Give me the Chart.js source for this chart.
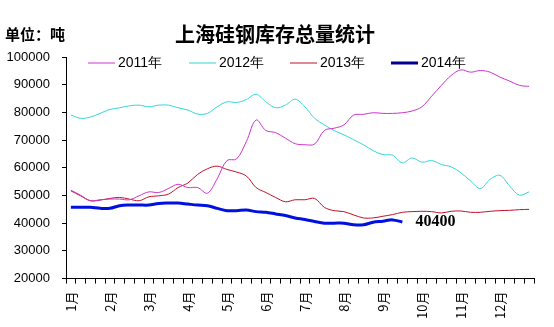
<!DOCTYPE html>
<html>
<head>
<meta charset="utf-8">
<script src="https://cdn.jsdelivr.net/npm/chart.js@4/dist/chart.umd.min.js"></script>
<style>
  html, body { margin: 0; padding: 0; background: #fff; }
  #wrap { width: 554px; height: 327px; }
</style>
</head>
<body>
<div id="wrap"><canvas id="c"></canvas></div>
<script>
// weekly points, 4 per month
var months = ['1月', '2月', '3月', '4月', '5月', '6月', '7月', '8月', '9月', '10月', '11月', '12月'];
var seriesNames = ['2011年', '2012年', '2013年', '2014年'];

var y2011 = [51900, 50100, 48100, 48450, 48700, 48700, 48450, 49900, 51300, 51070, 52500, 54050,
             52860, 52860, 50830, 56000, 62600, 63200, 69500, 77260, 73450, 72700, 70700, 68700,
             68330, 68570, 73500, 74290, 75480, 79050, 79290, 79880, 79640, 79640, 79880, 80500,
             82020, 85830, 89760, 93330, 95360, 94520, 95120, 94520, 92740, 91310, 89760, 89400];
var y2012 = [79050, 77860, 78330, 79640, 81070, 81670, 82380, 82620, 82020, 82620, 82620, 81670,
             80830, 79400, 79640, 82020, 83810, 83570, 84640, 86550, 83810, 81670, 82620, 84760,
             82000, 77860, 75500, 73450, 71900, 70120, 68330, 66190, 64760, 64520, 61790, 63570,
             62020, 62620, 61190, 60360, 58210, 55240, 52500, 55830, 57260, 53450, 50120, 51310];
var y2013 = [51670, 49880, 48100, 48330, 48930, 49290, 48690, 48100, 49520, 49880, 50480, 52860,
             54500, 57620, 59640, 60600, 59400, 58450, 57020, 52860, 51070, 49290, 47740, 48450,
             48450, 48930, 45710, 44520, 44170, 42980, 41900, 41900, 42500, 43100, 43930, 44170,
             44290, 44170, 43690, 44290, 44400, 43930, 43930, 44290, 44520, 44640, 44880, 45000];
var y2014 = [45710, 45710, 45710, 45360, 45360, 46310, 46550, 46550, 46550, 47140, 47260, 47260,
             46900, 46550, 46310, 45360, 44520, 44520, 44760, 44170, 43930, 43330, 42740, 41900,
             41310, 40600, 40000, 40000, 40000, 39400, 39400, 40360, 40710, 41190, 40400];

var yTicks = [20000, 30000, 40000, 50000, 60000, 70000, 80000, 90000, 100000];

var labels = [];
months.forEach(function (m) {
    labels.push(m, '', '', '');
});

var lineColors = ['#CC33CC', '#33D6D6', '#C0102A', '#0010E0'];
var legendColors = ['#CC33CC', '#33D6D6', '#C0102A', '#000090'];
var lineWidths = [1, 1, 1, 3];

// title, unit, legend and the last-value tag
var decor = {
    id: 'decor',
    afterDraw: function (chart) {
        var ctx = chart.ctx;
        ctx.save();
        ctx.fillStyle = '#000';
        ctx.textBaseline = 'middle';

        ctx.font = 'bold 20px "Noto Sans CJK SC"';
        ctx.textAlign = 'center';
        ctx.fillText('上海硅钢库存总量统计', 275, 34);

        ctx.font = 'bold 15px "Noto Sans CJK SC"';
        ctx.textAlign = 'left';
        ctx.fillText('单位：吨', 5, 34);

        var lx = [88, 189, 290, 391];
        ctx.font = '14px "Liberation Sans"';
        seriesNames.forEach(function (name, i) {
            ctx.strokeStyle = legendColors[i];
            ctx.lineWidth = i === 3 ? 3 : 1;
            ctx.beginPath();
            ctx.moveTo(lx[i], 63);
            ctx.lineTo(lx[i] + 27, 63);
            ctx.stroke();
            ctx.fillText(name, lx[i] + 30, 63);
        });

        var meta = chart.getDatasetMeta(3);
        var last = meta.data[meta.data.length - 1];
        ctx.font = 'bold 16px "Liberation Serif"';
        ctx.fillText(String(y2014[y2014.length - 1]), last.x + 13, last.y);
        ctx.restore();
    }
};

var datasets = [y2011, y2012, y2013, y2014].map(function (d, i) {
    return {
        label: seriesNames[i],
        data: d,
        borderColor: lineColors[i],
        backgroundColor: lineColors[i],
        borderWidth: lineWidths[i],
        pointRadius: 0,
        tension: 0.35,
        fill: false
    };
});

new Chart(document.getElementById('c'), {
    type: 'line',
    data: { labels: labels, datasets: datasets },
    plugins: [decor],
    options: {
        responsive: true,
        maintainAspectRatio: false,
        animation: false,
        layout: { padding: { top: 57, left: 6, right: 20, bottom: 0 } },
        plugins: {
            legend: { display: false },
            tooltip: { enabled: false }
        },
        scales: {
            x: {
                offset: true,
                grid: {
                    offset: true,
                    drawOnChartArea: false,
                    drawTicks: true,
                    tickLength: 5,
                    color: '#000'
                },
                border: { color: '#000', width: 1 },
                ticks: {
                    autoSkip: false,
                    maxRotation: 90,
                    minRotation: 90,
                    padding: 8,
                    color: '#000',
                    font: { family: '"Noto Sans CJK SC"', size: 13 }
                }
            },
            y: {
                min: 20000,
                max: 100000,
                afterBuildTicks: function (scale) {
                    scale.ticks = yTicks.map(function (v) { return { value: v }; });
                },
                afterFit: function (scale) {
                    scale.width = 60;
                },
                grid: {
                    drawOnChartArea: false,
                    drawTicks: true,
                    tickLength: 4,
                    color: '#000'
                },
                border: { color: '#000', width: 1 },
                ticks: {
                    padding: 12,
                    color: '#000',
                    font: { family: '"Liberation Sans"', size: 13 },
                    callback: function (v) { return String(v); }
                }
            }
        }
    }
});
</script>
</body>
</html>
